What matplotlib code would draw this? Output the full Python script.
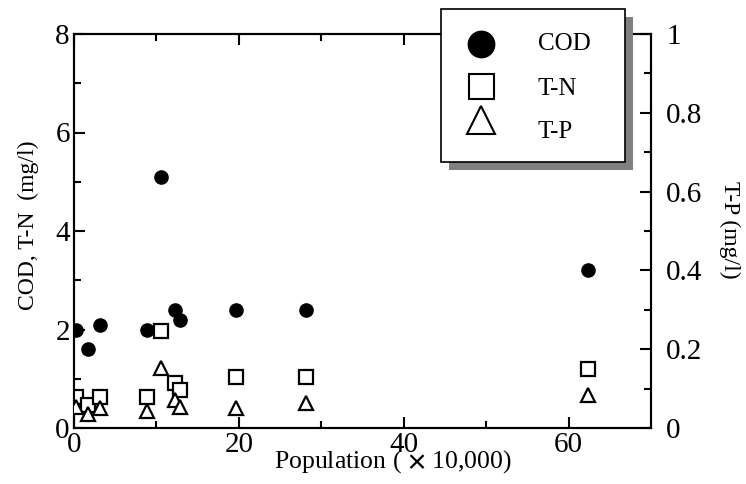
import matplotlib
matplotlib.use("Agg")
import matplotlib.pyplot as plt
from matplotlib.patches import Rectangle
from matplotlib.lines import Line2D

plt.rcParams['font.family'] = ['Liberation Serif', 'DejaVu Serif']
plt.rcParams['mathtext.fontset'] = 'stix'

# Population (x10,000)
pop_cod = [0.2, 1.7, 3.1, 8.8, 10.5, 12.2, 12.8, 19.6, 28.2, 62.4]
cod = [2.0, 1.6, 2.1, 2.0, 5.1, 2.4, 2.2, 2.4, 2.4, 3.2]

pop_tn = [0.3, 1.7, 3.1, 8.9, 10.6, 12.2, 12.9, 19.6, 28.2, 62.4]
tn = [0.62, 0.47, 0.62, 0.62, 1.97, 0.91, 0.77, 1.04, 1.04, 1.2]

pop_tp = [0.3, 1.7, 3.2, 8.9, 10.6, 12.2, 12.8, 19.6, 28.2, 62.4]
tp = [0.053, 0.035, 0.052, 0.043, 0.152, 0.071, 0.054, 0.052, 0.063, 0.084]

legend_labels = ['COD', 'T-N', 'T-P']

W, H = 746, 484
fig = plt.figure(figsize=(W / 100, H / 100), dpi=100)
ax = fig.add_axes([74 / W, 1 - 428 / H, (651 - 74) / W, (428 - 34) / H])
ax2 = ax.twinx()

ax.plot(pop_cod, cod, 'o', color='black', markersize=9.5, linestyle='none', zorder=3)
ax.plot(pop_tn, tn, 's', markerfacecolor='white', markeredgecolor='black',
        markeredgewidth=1.6, markersize=10, linestyle='none', zorder=3)
ax2.plot(pop_tp, tp, '^', markerfacecolor='white', markeredgecolor='black',
         markeredgewidth=1.6, markersize=10.5, linestyle='none', zorder=3)

ax.set_xlim(0, 70)
ax.set_ylim(0, 8)
ax2.set_ylim(0, 1)
ax.set_xticks([0, 20, 40, 60])
ax.set_xticks([10, 30, 50], minor=True)
ax.set_yticks([0, 2, 4, 6, 8])
ax.set_yticks([1, 3, 5, 7], minor=True)
ax2.set_yticks([0, 0.2, 0.4, 0.6, 0.8, 1.0])
ax2.set_yticklabels(['0', '0.2', '0.4', '0.6', '0.8', '1'])
ax2.set_yticks([0.1, 0.3, 0.5, 0.7, 0.9], minor=True)

for a in (ax, ax2):
    for s in a.spines.values():
        s.set_linewidth(1.5)
ax.tick_params(which='both', direction='in', top=True, right=False, width=1.5,
               labelsize=21)
ax.tick_params(axis='y', pad=3)
ax.tick_params(axis='x', pad=3)
ax.tick_params(which='major', length=8)
ax.tick_params(which='minor', length=5)
ax2.tick_params(which='both', direction='in', width=1.5, labelsize=21, pad=11)
ax2.tick_params(which='major', length=8)
ax2.tick_params(which='minor', length=5)

fig.text(28 / W, 1 - 225 / H, 'COD, T-N  (mg/l)', fontsize=17, rotation=90,
         ha='center', va='center')
fig.text(730 / W, 1 - 230 / H, 'T-P (mg/l)', fontsize=17, rotation=-90,
         ha='center', va='center')
fig.text(393 / W, 1 - 462 / H, r'Population ( $\mathbf{\times}$ 10,000)', fontsize=18.5,
         ha='center', va='center')

# legend box with shadow
lx0, ly0, lx1, ly1 = 441, 9, 625, 162
shadow = Rectangle(((lx0 + 8) / W, 1 - (ly1 + 8) / H), (lx1 - lx0) / W, (ly1 - ly0) / H,
                   transform=fig.transFigure, facecolor='#808080', edgecolor='none', zorder=10)
box = Rectangle((lx0 / W, 1 - ly1 / H), (lx1 - lx0) / W, (ly1 - ly0) / H,
                transform=fig.transFigure, facecolor='white', edgecolor='black',
                linewidth=1.2, zorder=11)
fig.add_artist(shadow)
fig.add_artist(box)

mk_x = 481
tx_x = 538
rows_m = [44, 86, 120]
rows_t = [44, 89, 132]
styles = [dict(marker='o', markerfacecolor='black', markeredgecolor='black', markersize=19),
          dict(marker='s', markerfacecolor='white', markeredgecolor='black', markersize=18,
               markeredgewidth=1.5),
          dict(marker='^', markerfacecolor='white', markeredgecolor='black', markersize=20,
               markeredgewidth=1.5)]
for lab, ym, yt, st in zip(legend_labels, rows_m, rows_t, styles):
    fig.add_artist(Line2D([mk_x / W], [1 - ym / H], transform=fig.transFigure,
                          linestyle='none', zorder=12, **st))
    fig.text(tx_x / W, 1 - yt / H, lab, fontsize=18, ha='left', va='center', zorder=12)

fig.savefig('out.png', dpi=100)
